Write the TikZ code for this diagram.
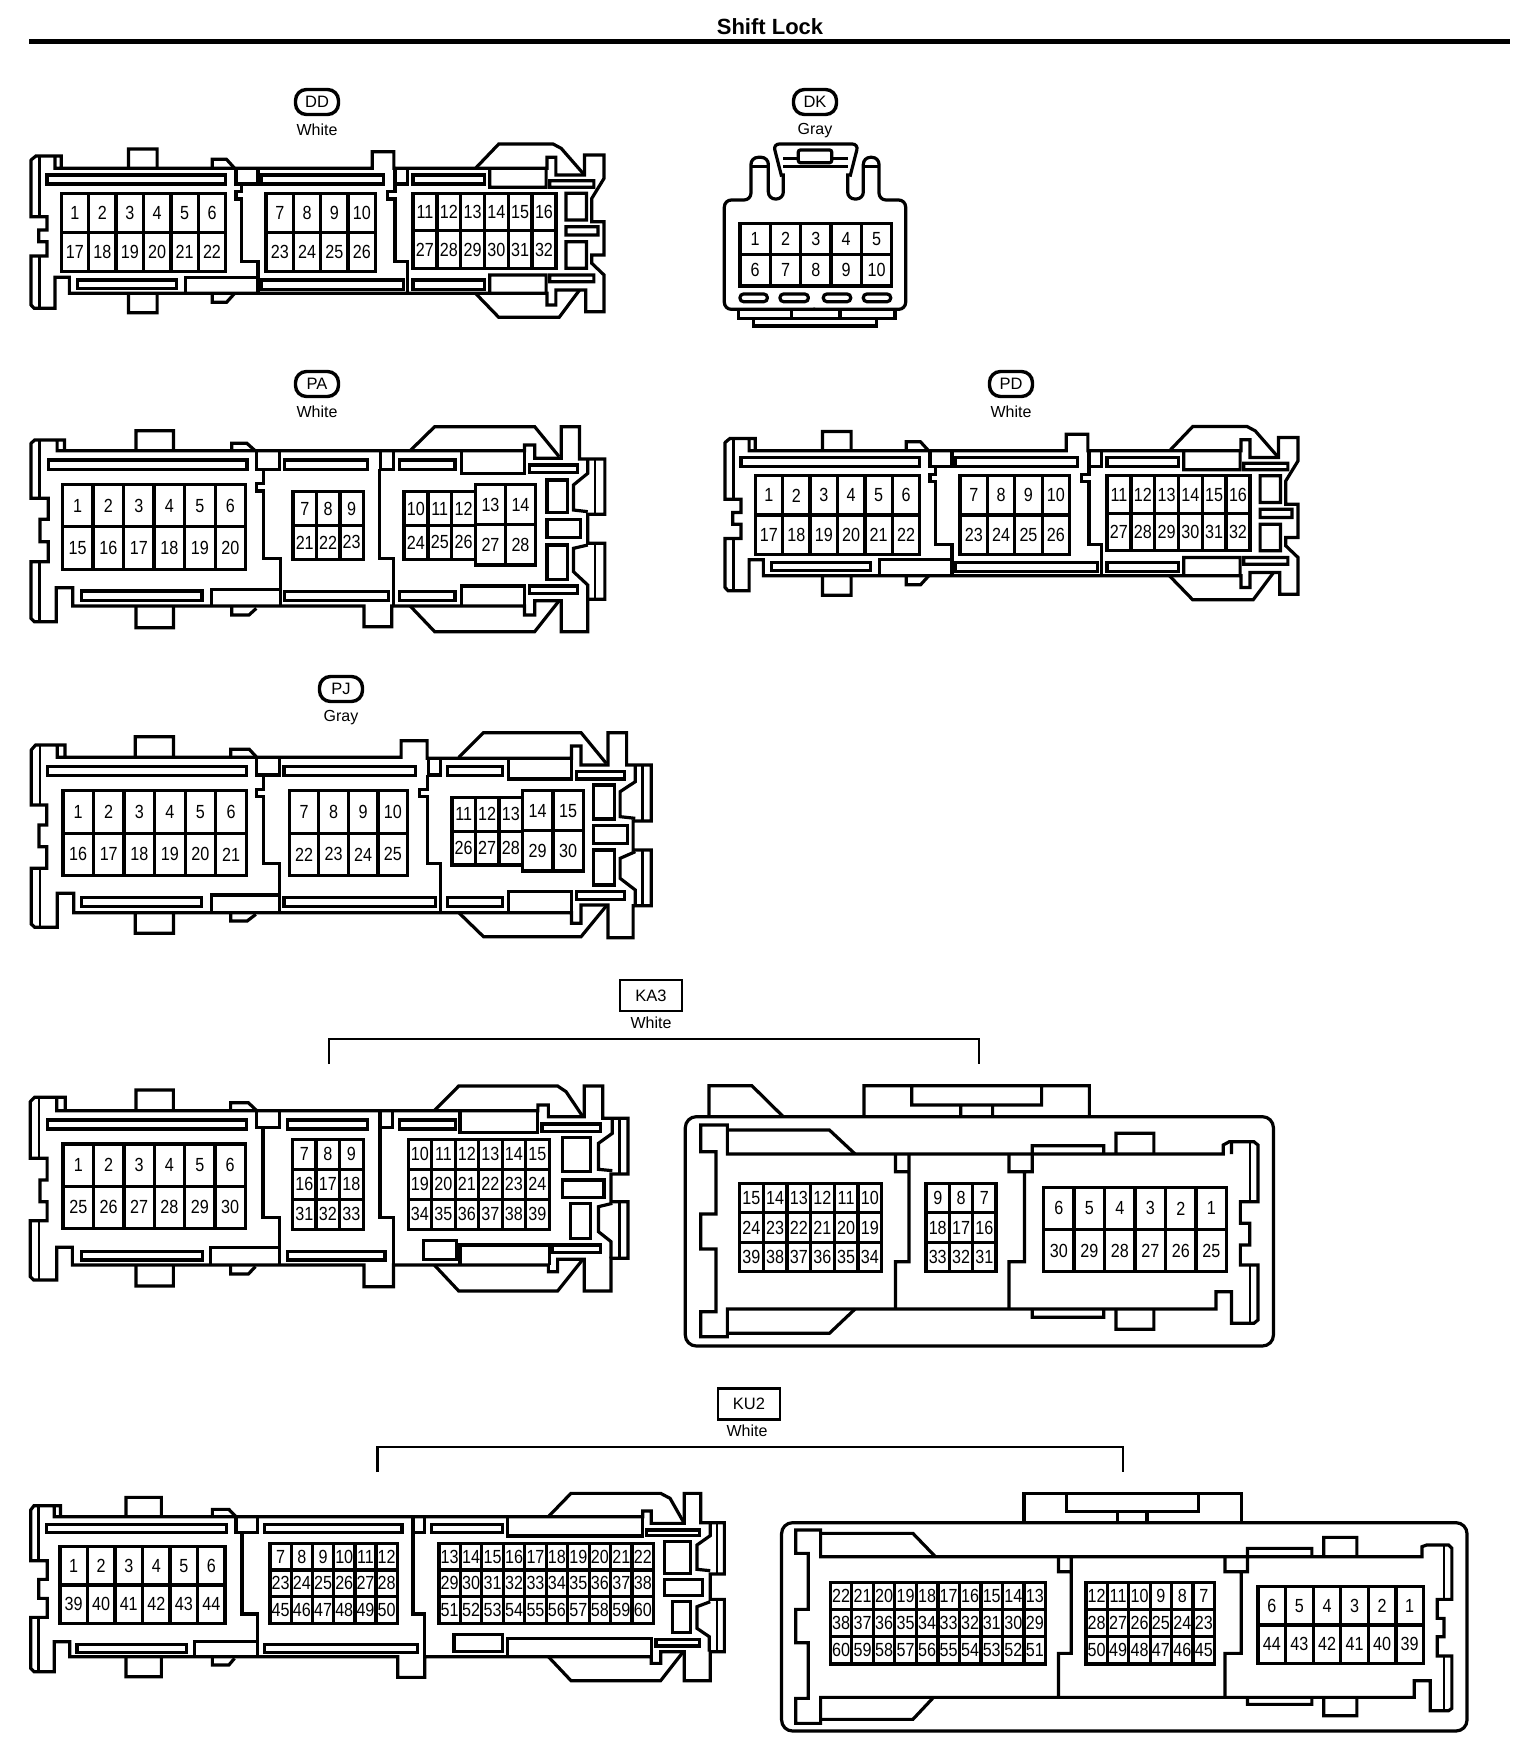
\documentclass[tikz,border=0pt]{standalone}
\usepackage{fontspec}
\setmainfont{Liberation Sans}
\newfontfamily\pinfont[FakeStretch=0.85]{Liberation Sans}
\tikzset{
  conn/.style={draw=black,line width=3.2pt,line join=miter,line cap=butt},
  bracketl/.style={draw=black,line width=2.8pt,line join=miter},
  thinl/.style={draw=black,line width=2.4pt},
  pinline/.style={draw=black,line width=3.3pt},
  pintext/.style={inner sep=0pt,font=\pinfont\fontsize{19}{19}\selectfont,text=black},
  pill/.style={draw=black,line width=3.4pt,rounded corners=11pt,minimum width=43pt,minimum height=25pt,inner sep=0pt,font=\fontsize{16.5}{17}\selectfont},
  tagbox/.style={draw=black,line width=2.6pt,minimum width=62pt,minimum height=31pt,inner sep=0pt,font=\fontsize{16.5}{17}\selectfont},
  colourlabel/.style={inner sep=0pt,font=\fontsize{16}{16}\selectfont},
}
% name, x0, x1, y0, y1, cols, rows, labels
\newcommand\pingrid[8]{%
  \pgfmathsetmacro\gdx{(#3-#2)/#6}%
  \pgfmathsetmacro\gdy{(#5-#4)/#7}%
  \draw[pinline] (#2,#4) rectangle (#3,#5);
  \foreach \c in {1,...,#6}{\draw[pinline] ({#2+\c*\gdx},#4) -- ({#2+\c*\gdx},#5);}
  \foreach \r in {1,...,#7}{\draw[pinline] (#2,{#4+\r*\gdy}) -- (#3,{#4+\r*\gdy});}
  \foreach \t [count=\i from 0] in {#8}{%
    \pgfmathsetmacro\cx{#2+(mod(\i,#6)+.5)*\gdx}%
    \pgfmathsetmacro\cy{#4+(int(\i/#6)+.5)*\gdy}%
    \node[pintext] (#1-\t) at (\cx,\cy) {\t};
  }%
}
% DD / PD share one housing (coordinates of the first zoom)
\newcommand\ddbody{%
  \draw[conn] (76,480) -- (88,468) -- (150,468) -- (150,505) -- (135,505) -- (135,470)
     (135,505) -- (912,505) -- (912,455) -- (965,455) -- (965,505) -- (1340,505) -- (1340,472) -- (1362,472) -- (1362,525) -- (1432,525) -- (1432,465) -- (1480,465) -- (1480,535) -- (1450,595) -- (1450,665) -- (1480,665) -- (1480,765) -- (1450,765) -- (1450,790) -- (1480,825) -- (1480,935) -- (1435,935) -- (1435,870) -- (1362,870) -- (1362,915) -- (1340,915) -- (1340,880) -- (170,880) -- (170,832) -- (135,832) -- (135,925) -- (84,925) -- (76,915) -- (76,768) -- (115,768) -- (115,725) -- (95,725) -- (95,690) -- (115,690) -- (115,650) -- (76,650) -- (76,478);
  \draw[thinl] (97,470) -- (97,650) (97,770) -- (97,925);
  \draw[conn] (315,505) -- (315,447) -- (385,447) -- (385,505)
     (315,880) -- (315,938) -- (385,938) -- (385,880)
     (520,505) -- (520,478) -- (555,478) -- (575,505)
     (520,880) -- (520,907) -- (555,907) -- (575,880);
  \draw[conn] (115,525) rectangle (553,552) (190,840) rectangle (433,865)
     (640,525) rectangle (940,552) (640,840) rectangle (988,868)
     (1012,525) rectangle (1187,552) (1012,840) rectangle (1187,868);
  \draw[conn] (578,505) -- (578,552) -- (632,552) -- (632,505)
     (592,552) -- (592,575) -- (578,575) -- (578,597) -- (592,597) -- (592,785) -- (632,785) -- (632,880)
     (455,880) -- (455,832) -- (632,832)
     (968,505) -- (968,575) -- (950,575) -- (950,597) -- (968,597) -- (968,785) -- (998,785) -- (998,880)
     (968,552) -- (998,552) -- (998,505);
  \draw[conn] (1165,505) -- (1222,432) -- (1355,432) -- (1375,445) -- (1432,525)
     (1165,880) -- (1222,952) -- (1370,952) -- (1420,870)
     (1200,505) -- (1200,562) -- (1338,562) -- (1338,505)
     (1200,880) -- (1200,825) -- (1338,825) -- (1338,880)
     (1347,542) rectangle (1455,562) (1347,825) rectangle (1455,845)
     (1387,580) rectangle (1437,660) (1387,725) rectangle (1437,805) (1387,680) rectangle (1465,705);
}
\begin{document}
\begin{tikzpicture}[x=1pt,y=-1pt]
\useasboundingbox[fill=white] (0,0) rectangle (1536,1754);
% title
\node[inner sep=0pt,font=\bfseries\fontsize{22}{22}\selectfont] (title) at (770,27) {Shift Lock};
\coordinate (ruleL) at (29,41.3);
\coordinate (ruleR) at (1510,41.3);
\draw[black,line width=4.4pt] (ruleL) -- (ruleR);

% ---------- DD
\node[pill] (tagDD) at (317,102) {DD};
\node[colourlabel] (colDD) at (317,130) {White};
\begin{scope}[shift={(0,0)},xscale=1/2.45,yscale=1/3]
  \ddbody
  \pingrid{DD}{150}{553}{580}{815}{6}{2}{1,2,3,4,5,6,17,18,19,20,21,22}
  \pingrid{DD}{652}{920}{580}{815}{4}{2}{7,8,9,10,23,24,25,26}
  \pingrid{DD}{1012}{1362}{580}{805}{6}{2}{11,12,13,14,15,16,27,28,29,30,31,32}
\end{scope}

% ---------- PD
\node[pill] (tagPD) at (1011,384) {PD};
\node[colourlabel] (colPD) at (1011,412) {White};
\begin{scope}[shift={(694,282.5)},xscale=1/2.45,yscale=1/3]
  \ddbody
  \pingrid{PD}{150}{553}{580}{815}{6}{2}{1,2,3,4,5,6,17,18,19,20,21,22}
  \pingrid{PD}{652}{920}{580}{815}{4}{2}{7,8,9,10,23,24,25,26}
  \pingrid{PD}{1012}{1362}{580}{805}{6}{2}{11,12,13,14,15,16,27,28,29,30,31,32}
\end{scope}

% ---------- DK
\node[pill] (tagDK) at (815,102) {DK};
\node[colourlabel] (colDK) at (815,131) {Gray};
\begin{scope}[shift={(680,70)},xscale=1/3,yscale=1/3]
  \draw[conn,rounded corners=7pt] (405,718) -- (133,718) -- (133,390) -- (213,390) -- (213,262) -- (265,262) -- (265,387) -- (310,387) -- (310,310);
  \draw[conn,rounded corners=7pt] (400,718) -- (677,718) -- (677,390) -- (597,390) -- (597,262) -- (550,262) -- (550,387) -- (503,387) -- (503,310);
  \draw[conn,rounded corners=6pt] (305,320) -- (280,222) -- (535,222) -- (510,320);
  \draw[conn] (310,265) -- (355,265) (455,265) -- (503,265) (310,290) -- (503,290) (213,290) -- (265,290) (550,290) -- (597,290);
  \draw[conn,rounded corners=2pt] (355,240) rectangle (455,278);
  \draw[conn,rounded corners=3.5pt] (180,672) rectangle (262,695) (300,672) rectangle (385,695) (430,672) rectangle (512,695) (550,672) rectangle (632,695);
  \draw[conn] (175,718) -- (175,745) -- (645,745) -- (645,718) (335,718) -- (335,745) (480,718) -- (480,745) (220,745) -- (220,768) -- (590,768) -- (590,745);
  \pingrid{DK}{180}{635}{460}{648}{5}{2}{1,2,3,4,5,6,7,8,9,10}
\end{scope}

% ---------- PA
\node[pill] (tagPA) at (317,384) {PA};
\node[colourlabel] (colPA) at (317,412) {White};
\begin{scope}[shift={(0,360)},xscale=1/2.45,yscale=1/3]
  \draw[conn] (76,250) -- (85,240) -- (158,240) -- (158,272) -- (140,272) -- (140,240)
     (140,272) -- (1285,272) -- (1285,255) -- (1310,255) -- (1310,295) -- (1375,295) -- (1375,200) -- (1420,200) -- (1420,297) -- (1482,297) -- (1482,463) -- (1440,463) -- (1440,550) -- (1482,550) -- (1482,718) -- (1440,718) -- (1440,815) -- (1375,815) -- (1375,722) -- (1310,722) -- (1310,765) -- (1285,765) -- (1285,738) -- (960,738) -- (960,800) -- (892,800) -- (892,738) -- (178,738) -- (178,683) -- (138,683) -- (138,785) -- (84,785) -- (76,775) -- (76,605) -- (118,605) -- (118,545) -- (98,545) -- (98,478) -- (118,478) -- (118,415) -- (76,415) -- (76,248);
  \draw[thinl] (97,240) -- (97,415) (97,605) -- (97,785) (1458,297) -- (1458,463) (1458,550) -- (1458,718);
  \draw[conn] (1440,297) -- (1440,340) -- (1405,375) -- (1405,450) -- (1440,455)
     (1440,555) -- (1405,565) -- (1405,635) -- (1440,675) -- (1440,718)
     (333,272) -- (333,212) -- (425,212) -- (425,272)
     (333,738) -- (333,803) -- (425,803) -- (425,738)
     (568,272) -- (568,250) -- (605,250) -- (625,272)
     (568,738) -- (568,765) -- (610,765) -- (628,745)
     (1005,272) -- (1065,200) -- (1310,200) -- (1370,290)
     (1005,738) -- (1065,815) -- (1310,815) -- (1370,722);
  \draw[conn] (118,300) rectangle (605,328) (200,693) rectangle (495,722) (697,300) rectangle (900,328) (697,695) rectangle (952,722) (978,300) rectangle (1115,328) (978,695) rectangle (1115,722);
  \draw[conn] (628,272) -- (628,328) -- (685,328) -- (685,272)
     (932,272) -- (932,328) -- (965,328) -- (965,272)
     (645,328) -- (645,370) -- (628,370) -- (628,393) -- (645,393) -- (645,595) -- (688,595) -- (688,738)
     (518,738) -- (518,688) -- (688,688)
     (930,328) -- (930,595) -- (965,595) -- (965,738)
     (1130,272) -- (1130,340) -- (1285,340) -- (1285,272)
     (1130,738) -- (1130,678) -- (1285,678) -- (1285,738)
     (1297,315) rectangle (1415,338) (1297,678) rectangle (1415,700)
     (1340,360) rectangle (1390,458) (1340,478) rectangle (1422,532) (1340,555) rectangle (1390,658);
  \pingrid{PA}{153}{602}{373}{628}{6}{2}{1,2,3,4,5,6,15,16,17,18,19,20}
  \pingrid{PA}{718}{890}{395}{598}{3}{2}{7,8,9,21,22,23}
  \pingrid{PA}{990}{1165}{395}{598}{3}{2}{10,11,12,24,25,26}
  \pingrid{PA}{1165}{1312}{373}{615}{2}{2}{13,14,27,28}
\end{scope}

% ---------- PJ
\node[pill] (tagPJ) at (341,689) {PJ};
\node[colourlabel] (colPJ) at (341,718) {Gray};
\begin{scope}[shift={(0,670)},xscale=1/2.306,yscale=1/3]
  \draw[conn] (72,240) -- (82,225) -- (150,225) -- (150,262) -- (132,262) -- (132,225)
     (132,262) -- (925,262) -- (925,212) -- (985,212) -- (985,265) -- (1318,265) -- (1318,228) -- (1340,228) -- (1340,285) -- (1402,285) -- (1402,188) -- (1445,188) -- (1445,285) -- (1502,285) -- (1502,453) -- (1460,453) -- (1460,540) -- (1502,540) -- (1502,707) -- (1460,707) -- (1460,803) -- (1402,803) -- (1402,705) -- (1340,705) -- (1340,760) -- (1318,760) -- (1318,728) -- (170,728) -- (170,670) -- (132,670) -- (132,772) -- (80,772) -- (72,762) -- (72,595) -- (108,595) -- (108,530) -- (90,530) -- (90,465) -- (108,465) -- (108,405) -- (72,405) -- (72,238);
  \draw[thinl] (92,225) -- (92,405) (92,595) -- (92,772) (1482,285) -- (1482,453) (1482,540) -- (1482,707);
  \draw[conn] (1465,285) -- (1465,335) -- (1430,365) -- (1430,440) -- (1465,445)
     (1465,545) -- (1430,565) -- (1430,625) -- (1465,660) -- (1465,707)
     (312,262) -- (312,200) -- (400,200) -- (400,262)
     (312,728) -- (312,790) -- (400,790) -- (400,728)
     (532,262) -- (532,238) -- (575,238) -- (592,262)
     (532,728) -- (532,753) -- (570,753) -- (590,733)
     (1058,262) -- (1115,188) -- (1340,188) -- (1398,280)
     (1058,728) -- (1115,800) -- (1340,800) -- (1398,708);
  \draw[conn] (110,290) rectangle (568,316) (188,683) rectangle (465,710) (655,290) rectangle (958,316) (655,683) rectangle (1005,710) (1032,290) rectangle (1158,316) (1032,683) rectangle (1158,710);
  \draw[conn] (592,265) -- (592,315) -- (645,315) -- (645,265)
     (988,265) -- (988,315) -- (1015,315) -- (1015,265)
     (608,315) -- (608,358) -- (592,358) -- (592,380) -- (608,380) -- (608,580) -- (645,580) -- (645,728)
     (487,728) -- (487,675) -- (645,675)
     (985,315) -- (985,358) -- (968,358) -- (968,380) -- (985,380) -- (985,580) -- (1015,580) -- (1015,728)
     (1172,265) -- (1172,327) -- (1318,327) -- (1318,265)
     (1172,728) -- (1172,665) -- (1318,665) -- (1318,728)
     (1330,305) rectangle (1440,327) (1330,665) rectangle (1440,688)
     (1368,345) rectangle (1417,447) (1368,467) rectangle (1447,520) (1368,540) rectangle (1417,645);
  \pingrid{PJ}{145}{568}{362}{617}{6}{2}{1,2,3,4,5,6,16,17,18,19,20,21}
  \pingrid{PJ}{667}{940}{362}{617}{4}{2}{7,8,9,10,22,23,24,25}
  \pingrid{PJ}{1042}{1205}{382}{585}{3}{2}{11,12,13,26,27,28}
  \pingrid{PJ}{1205}{1345}{362}{603}{2}{2}{14,15,29,30}
\end{scope}

% ---------- KA3
\node[tagbox] (tagKA) at (651,995.5) {KA3};
\node[colourlabel] (colKA) at (651,1023) {White};
\coordinate (kaL) at (329,1064);
\coordinate (kaR) at (979,1064);
\draw[bracketl] (kaL) -- ++(0,-25) -| (kaR);
\begin{scope}[shift={(0,970)},xscale=1/2.376,yscale=1/3]
  \draw[conn] (72,395) -- (82,382) -- (155,382) -- (155,422) -- (135,422) -- (135,382)
     (135,422) -- (1278,422) -- (1278,405) -- (1303,405) -- (1303,440) -- (1388,440) -- (1388,348) -- (1432,348) -- (1432,445) -- (1492,445) -- (1492,612) -- (1452,612) -- (1452,695) -- (1492,695) -- (1492,865) -- (1452,865) -- (1452,963) -- (1388,963) -- (1388,868) -- (1325,868) -- (1325,905) -- (1303,905) -- (1303,885) -- (935,885) -- (935,950) -- (865,950) -- (865,885) -- (172,885) -- (172,832) -- (135,832) -- (135,930) -- (80,930) -- (72,920) -- (72,752) -- (112,752) -- (112,695) -- (95,695) -- (95,630) -- (112,630) -- (112,565) -- (72,565) -- (72,393);
  \draw[thinl] (92,382) -- (92,565) (92,752) -- (92,930) (1472,445) -- (1472,612) (1472,695) -- (1472,865);
  \draw[conn] (1455,445) -- (1455,490) -- (1422,520) -- (1422,598) -- (1455,602)
     (1455,700) -- (1422,710) -- (1422,785) -- (1452,815) -- (1452,865)
     (323,422) -- (323,360) -- (412,360) -- (412,422)
     (323,885) -- (323,948) -- (412,948) -- (412,885)
     (548,422) -- (548,398) -- (590,398) -- (610,422)
     (548,885) -- (548,912) -- (590,912) -- (607,890)
     (1032,422) -- (1090,348) -- (1325,348) -- (1345,365) -- (1385,440)
     (1032,885) -- (1090,963) -- (1325,963) -- (1385,868);
  \draw[conn] (113,450) rectangle (585,477) (193,845) rectangle (482,870) (683,450) rectangle (873,477) (683,845) rectangle (915,870) (950,450) rectangle (1082,477);
  \draw[conn] (610,425) -- (610,472) -- (665,472) -- (665,425)
     (903,425) -- (903,472) -- (933,472) -- (933,425)
     (625,472) -- (625,742) -- (665,742) -- (665,885)
     (500,885) -- (500,832) -- (665,832)
     (903,472) -- (903,742) -- (935,742) -- (935,885)
     (1093,425) -- (1093,487) -- (1278,487) -- (1278,425)
     (1093,885) -- (1093,825) -- (1305,825) -- (1305,885)
     (1007,812) rectangle (1085,868)
     (1288,462) rectangle (1427,485) (1313,825) rectangle (1427,848)
     (1337,503) rectangle (1403,605) (1337,630) rectangle (1435,683) (1355,700) rectangle (1403,805);
  \pingrid{KAa}{150}{583}{522}{775}{6}{2}{1,2,3,4,5,6,25,26,27,28,29,30}
  \pingrid{KAa}{695}{863}{508}{778}{3}{3}{7,8,9,16,17,18,31,32,33}
  \pingrid{KAa}{970}{1305}{508}{778}{6}{3}{10,11,12,13,14,15,19,20,21,22,23,24,34,35,36,37,38,39}
\end{scope}
\begin{scope}[shift={(660,970)},xscale=1/2.45,yscale=1/3]
  \draw[conn,rounded corners=11pt] (62,440) rectangle (1503,1128);
  \draw[conn] (120,440) -- (120,347) -- (225,347) -- (302,440)
     (500,440) -- (500,347) -- (1052,347) -- (1052,440)
     (617,347) -- (617,405) -- (935,405) -- (935,347)
     (737,405) -- (737,440) (815,405) -- (815,440);
  \draw[conn] (100,465) -- (165,465) -- (165,552) -- (1380,552) -- (1380,525) -- (1395,515) -- (1455,515) -- (1465,525) -- (1465,695) -- (1422,695) -- (1422,760) -- (1445,760) -- (1445,825) -- (1422,825) -- (1422,885) -- (1465,885) -- (1465,1050) -- (1455,1060) -- (1400,1060) -- (1400,965) -- (1362,965) -- (1362,1017) -- (165,1017) -- (165,1100) -- (100,1100) -- (100,1025) -- (137,1025) -- (137,837) -- (100,837) -- (100,732) -- (137,732) -- (137,545) -- (100,545) -- cycle;
  \draw[conn] (165,480) -- (415,480) -- (478,552) (165,1090) -- (415,1090) -- (478,1017)
     (1400,515) -- (1400,552)
     (577,552) -- (577,605) -- (610,605) -- (610,552)
     (855,552) -- (855,605) -- (912,605) -- (912,552)
     (610,605) -- (610,875) -- (577,875) -- (577,1017)
     (893,605) -- (893,875) -- (855,875) -- (855,1017)
     (912,552) -- (912,527) -- (1087,527) -- (1087,552)
     (912,1017) -- (912,1042) -- (1087,1042) -- (1087,1017)
     (1117,552) -- (1117,490) -- (1210,490) -- (1210,552)
     (1117,1017) -- (1117,1078) -- (1210,1078) -- (1210,1017);
  \draw[thinl] (1445,515) -- (1445,695) (1445,885) -- (1445,1060);
  \pingrid{KAb}{195}{543}{640}{905}{6}{3}{15,14,13,12,11,10,24,23,22,21,20,19,39,38,37,36,35,34}
  \pingrid{KAb}{652}{823}{640}{905}{3}{3}{9,8,7,18,17,16,33,32,31}
  \pingrid{KAb}{940}{1388}{652}{905}{6}{2}{6,5,4,3,2,1,30,29,28,27,26,25}
\end{scope}

% ---------- KU2
\node[tagbox] (tagKU) at (749,1404) {KU2};
\node[colourlabel] (colKU) at (747,1431) {White};
\coordinate (kuL) at (377.5,1472);
\coordinate (kuR) at (1123,1472);
\draw[bracketl] (kuL) -- ++(0,-25) -| (kuR);
\begin{scope}[shift={(0,1370)},xscale=1/2.119,yscale=1/3]
  \draw[conn] (65,420) -- (72,407) -- (128,407) -- (128,440) -- (115,440) -- (115,407)
     (115,440) -- (1362,440) -- (1362,423) -- (1380,423) -- (1380,460) -- (1450,460) -- (1450,370) -- (1485,370) -- (1485,458) -- (1535,458) -- (1535,612) -- (1505,612) -- (1505,688) -- (1535,688) -- (1535,845) -- (1505,845) -- (1505,932) -- (1450,932) -- (1450,845) -- (1400,845) -- (1400,880) -- (1380,880) -- (1380,860) -- (900,860) -- (900,922) -- (843,922) -- (843,860) -- (148,860) -- (148,815) -- (115,815) -- (115,905) -- (72,905) -- (65,895) -- (65,742) -- (100,742) -- (100,685) -- (82,685) -- (82,628) -- (100,628) -- (100,572) -- (65,572) -- (65,418);
  \draw[thinl] (82,407) -- (82,572) (82,742) -- (82,905) (1520,458) -- (1520,612) (1520,688) -- (1520,845);
  \draw[conn] (1505,458) -- (1505,497) -- (1477,525) -- (1477,598) -- (1505,602)
     (1505,695) -- (1477,710) -- (1477,775) -- (1503,800) -- (1503,845)
     (267,440) -- (267,382) -- (342,382) -- (342,440)
     (267,860) -- (267,920) -- (342,920) -- (342,860)
     (450,440) -- (450,418) -- (485,418) -- (500,440)
     (450,860) -- (450,885) -- (485,885) -- (497,865)
     (1162,440) -- (1210,370) -- (1400,370) -- (1420,385) -- (1448,455)
     (1162,860) -- (1210,932) -- (1400,932) -- (1448,845);
  \draw[conn] (98,463) rectangle (480,488) (163,823) rectangle (395,847) (560,463) rectangle (852,488) (560,823) rectangle (885,847) (915,463) rectangle (1065,488);
  \draw[conn] (500,443) -- (500,488) -- (545,488) -- (545,443)
     (875,443) -- (875,488) -- (900,488) -- (900,443)
     (513,488) -- (513,732) -- (545,732) -- (545,860)
     (413,860) -- (413,815) -- (545,815)
     (875,488) -- (875,732) -- (900,732) -- (900,860)
     (1075,445) -- (1075,498) -- (1362,498) -- (1362,445)
     (1075,860) -- (1075,805) -- (1380,805) -- (1380,860)
     (962,793) rectangle (1065,845)
     (1370,480) rectangle (1483,497) (1390,808) rectangle (1483,828)
     (1408,515) rectangle (1463,610) (1408,628) rectangle (1488,677) (1425,695) rectangle (1463,788);
  \pingrid{KUa}{127}{477}{530}{760}{6}{2}{1,2,3,4,5,6,39,40,41,42,43,44}
  \pingrid{KUa}{572}{842}{520}{760}{6}{3}{7,8,9,10,11,12,23,24,25,26,27,28,45,46,47,48,49,50}
  \pingrid{KUa}{930}{1385}{520}{760}{10}{3}{13,14,15,16,17,18,19,20,21,22,29,30,31,32,33,34,35,36,37,38,51,52,53,54,55,56,57,58,59,60}
\end{scope}
\begin{scope}[shift={(760,1370)},xscale=1/2.178,yscale=1/3]
  \draw[conn,rounded corners=11pt] (47,458) rectangle (1540,1083);
  \draw[conn] (575,458) -- (575,370) -- (1048,370) -- (1048,458)
     (667,370) -- (667,425) -- (955,425) -- (955,370)
     (778,425) -- (778,458) (843,425) -- (843,458);
  \draw[conn] (78,480) -- (132,480) -- (132,560) -- (1442,560) -- (1442,530) -- (1452,525) -- (1500,525) -- (1507,535) -- (1507,688) -- (1475,688) -- (1475,745) -- (1490,745) -- (1490,800) -- (1475,800) -- (1475,858) -- (1507,858) -- (1507,1015) -- (1500,1022) -- (1460,1022) -- (1460,932) -- (1425,932) -- (1425,982) -- (132,982) -- (132,1060) -- (78,1060) -- (78,985) -- (105,985) -- (105,818) -- (78,818) -- (78,718) -- (105,718) -- (105,550) -- (78,550) -- cycle;
  \draw[conn] (132,490) -- (333,490) -- (382,560) (132,1048) -- (333,1048) -- (378,982)
     (650,560) -- (650,605) -- (678,605) -- (678,560)
     (1013,560) -- (1013,605) -- (1062,605) -- (1062,560)
     (678,605) -- (678,850) -- (650,850) -- (650,982)
     (1048,605) -- (1048,850) -- (1013,850) -- (1013,982)
     (1062,560) -- (1062,535) -- (1202,535) -- (1202,560)
     (1062,982) -- (1062,1003) -- (1202,1003) -- (1202,982)
     (1228,560) -- (1228,502) -- (1300,502) -- (1300,560)
     (1228,982) -- (1228,1037) -- (1300,1037) -- (1300,982);
  \draw[thinl] (1490,525) -- (1490,688) (1490,858) -- (1490,1022);
  \pingrid{KUb}{153}{622}{637}{882}{10}{3}{22,21,20,19,18,17,16,15,14,13,38,37,36,35,34,33,32,31,30,29,60,59,58,57,56,55,54,53,52,51}
  \pingrid{KUb}{710}{990}{637}{882}{6}{3}{12,11,10,9,8,7,28,27,26,25,24,23,50,49,48,47,46,45}
  \pingrid{KUb}{1085}{1445}{650}{880}{6}{2}{6,5,4,3,2,1,44,43,42,41,40,39}
\end{scope}
\end{tikzpicture}
\end{document}
